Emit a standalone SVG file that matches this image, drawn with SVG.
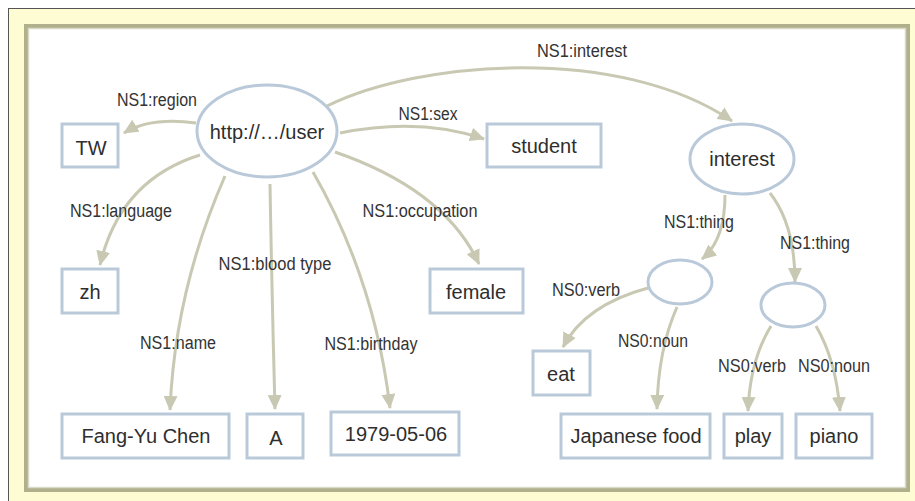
<svg xmlns="http://www.w3.org/2000/svg" width="915" height="501" viewBox="0 0 915 501">
  <style>
    .node rect, .node ellipse { fill: #ffffff; stroke: #b9c9d9; stroke-width: 3; }
    .node text { font-family: "Liberation Sans", Arial, sans-serif; font-size: 20px; fill: #2e2e2e; text-anchor: middle; }
    .edge { fill: none; stroke: #c9c9b3; stroke-width: 3; marker-end: url(#arrow); }
    .lbl { font-family: "Liberation Sans", Arial, sans-serif; font-size: 18px; fill: #333333; text-anchor: middle; }
  </style>
  <defs>
    <marker id="arrow" markerUnits="userSpaceOnUse" markerWidth="16" markerHeight="14" refX="14" refY="7" orient="auto">
      <path d="M0,0 L15,7 L0,14 z" fill="#c9c9b3"/>
    </marker>
  </defs>

  <!-- frame -->
  <rect x="0" y="0" width="915" height="501" fill="#ffffff"/>
  <rect x="8.5" y="8.5" width="920" height="510" fill="#fefcd2" stroke="#555555" stroke-width="1"/>
  <rect x="26" y="26" width="882" height="464" fill="#ffffff" stroke="#b0b08c" stroke-width="4"/>
  <rect x="28.5" y="28.5" width="877" height="459" fill="none" stroke="#dadac8" stroke-width="1.5"/>

  <!-- connectors -->
  <g id="connectors">
    <path class="edge" d="M196,123 Q150,117 124,133"/>
    <path class="edge" d="M340,133 Q420,117 484,139"/>
    <path class="edge" d="M327,106 C420,60 620,45 732,121"/>
    <path class="edge" d="M200,155 Q120,180 100,265"/>
    <path class="edge" d="M225,176 Q175,290 170,410"/>
    <path class="edge" d="M270,184 Q272,300 275,409"/>
    <path class="edge" d="M313,172 Q375,280 390,408"/>
    <path class="edge" d="M335,152 Q445,190 479,264"/>
    <path class="edge" d="M725,195 Q725,240 702,259"/>
    <path class="edge" d="M770,193 Q795,225 795,282"/>
    <path class="edge" d="M648,288 Q585,305 563,347"/>
    <path class="edge" d="M677,307 Q658,350 657,409"/>
    <path class="edge" d="M771,326 Q750,360 748,411"/>
    <path class="edge" d="M816,326 Q836,360 840,411"/>

    <text class="lbl" x="157" y="106" textLength="80" lengthAdjust="spacingAndGlyphs">NS1:region</text>
    <text class="lbl" x="428" y="120" textLength="59" lengthAdjust="spacingAndGlyphs">NS1:sex</text>
    <text class="lbl" x="582" y="57" textLength="90" lengthAdjust="spacingAndGlyphs">NS1:interest</text>
    <text class="lbl" x="121" y="217" textLength="102" lengthAdjust="spacingAndGlyphs">NS1:language</text>
    <text class="lbl" x="420" y="217" textLength="115" lengthAdjust="spacingAndGlyphs">NS1:occupation</text>
    <text class="lbl" x="275" y="270" textLength="113" lengthAdjust="spacingAndGlyphs">NS1:blood type</text>
    <text class="lbl" x="178" y="349" textLength="76" lengthAdjust="spacingAndGlyphs">NS1:name</text>
    <text class="lbl" x="371" y="350" textLength="93" lengthAdjust="spacingAndGlyphs">NS1:birthday</text>
    <text class="lbl" x="699" y="228" textLength="70" lengthAdjust="spacingAndGlyphs">NS1:thing</text>
    <text class="lbl" x="815" y="249" textLength="70" lengthAdjust="spacingAndGlyphs">NS1:thing</text>
    <text class="lbl" x="586" y="296" textLength="68" lengthAdjust="spacingAndGlyphs">NS0:verb</text>
    <text class="lbl" x="653" y="347" textLength="70" lengthAdjust="spacingAndGlyphs">NS0:noun</text>
    <text class="lbl" x="752" y="372" textLength="68" lengthAdjust="spacingAndGlyphs">NS0:verb</text>
    <text class="lbl" x="834" y="372" textLength="72" lengthAdjust="spacingAndGlyphs">NS0:noun</text>
  </g>

  <!-- nodes -->
  <g id="user" class="node">
    <ellipse cx="267" cy="131" rx="70" ry="46"/>
    <text x="267" y="139">http://…/user</text>
  </g>
  <g id="interest" class="node">
    <ellipse cx="742" cy="159" rx="52" ry="35"/>
    <text x="742" y="166">interest</text>
  </g>
  <g id="blank1" class="node">
    <ellipse cx="680" cy="282" rx="32" ry="22"/>
  </g>
  <g id="blank2" class="node">
    <ellipse cx="793" cy="305" rx="32" ry="22"/>
  </g>
  <g id="tw" class="node">
    <rect x="62" y="124" width="56" height="43"/>
    <text x="91" y="155">TW</text>
  </g>
  <g id="student" class="node">
    <rect x="487" y="124" width="114" height="43"/>
    <text x="544" y="153">student</text>
  </g>
  <g id="zh" class="node">
    <rect x="62" y="269" width="56" height="44"/>
    <text x="90" y="299">zh</text>
  </g>
  <g id="female" class="node">
    <rect x="430" y="269" width="93" height="44"/>
    <text x="476" y="299">female</text>
  </g>
  <g id="name" class="node">
    <rect x="62" y="414" width="167" height="44"/>
    <text x="146" y="443">Fang-Yu Chen</text>
  </g>
  <g id="bloodtype" class="node">
    <rect x="247" y="414" width="56" height="44"/>
    <text x="276" y="445">A</text>
  </g>
  <g id="birthday" class="node">
    <rect x="331" y="412" width="128" height="43"/>
    <text x="396" y="441">1979-05-06</text>
  </g>
  <g id="eat" class="node">
    <rect x="533" y="351" width="57" height="44"/>
    <text x="561" y="381">eat</text>
  </g>
  <g id="japanesefood" class="node">
    <rect x="561" y="414" width="149" height="44"/>
    <text x="636" y="443">Japanese food</text>
  </g>
  <g id="play" class="node">
    <rect x="724" y="414" width="58" height="44"/>
    <text x="753" y="443">play</text>
  </g>
  <g id="piano" class="node">
    <rect x="796" y="414" width="76" height="44"/>
    <text x="834" y="443">piano</text>
  </g>
</svg>
